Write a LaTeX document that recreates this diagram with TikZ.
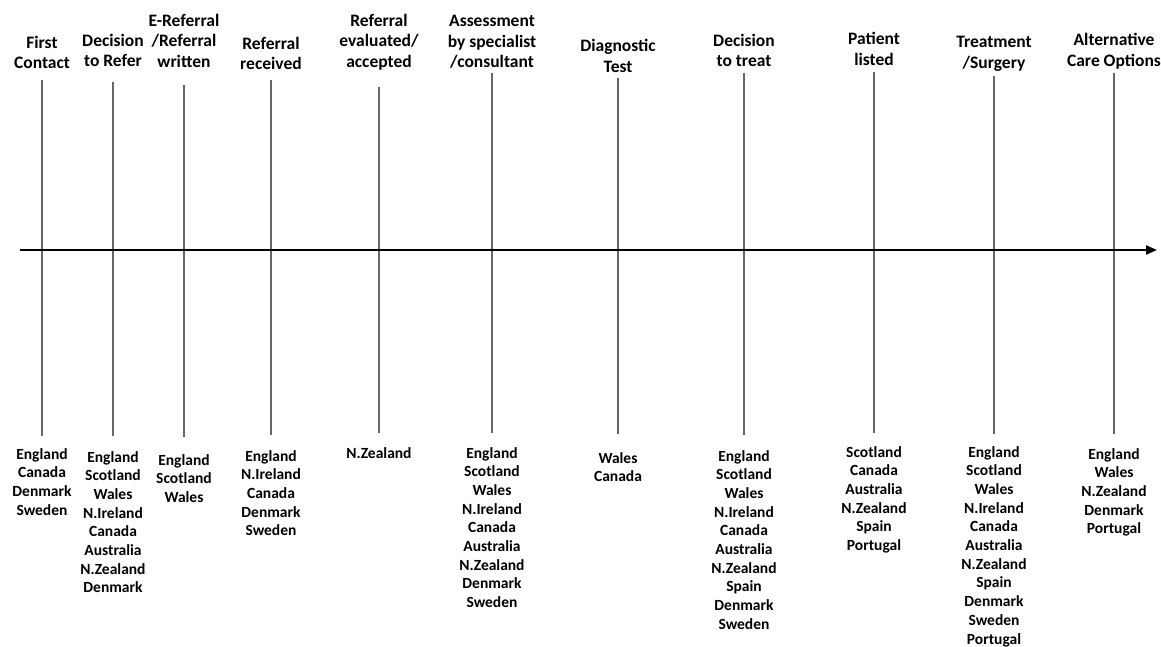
\documentclass[tikz,border=0pt]{standalone}
\usepackage{fontspec}
\setmainfont{Carlito}
\usetikzlibrary{arrows.meta}
\definecolor{tickgray}{HTML}{666666}
\begin{document}
\begin{tikzpicture}[x=1pt,y=-1pt,
  toplbl/.style={font=\fontsize{17.5}{20.5}\selectfont\bfseries, align=center, anchor=north, inner sep=0pt},
  botlbl/.style={font=\fontsize{15.5}{18.7}\selectfont\bfseries, align=center, anchor=north, inner sep=0pt},
  tickline/.style={draw=tickgray, line width=1.6pt},
  axisline/.style={draw=black, line width=2pt, -{Triangle[length=11pt,width=9pt]}}]
\useasboundingbox (0,0) rectangle (1161,647);

% top labels
\node[toplbl] (l1)  at (42,36)   {First\\Contact};
\node[toplbl] (l2)  at (113,34)  {Decision\\to Refer};
\node[toplbl] (l3)  at (184,14)  {E-Referral\\/Referral\\written};
\node[toplbl] (l4)  at (271,37)  {Referral\\received};
\node[toplbl] (l5)  at (379,14)  {Referral\\evaluated/\\accepted};
\node[toplbl] (l6)  at (492,15)  {Assessment\\by specialist\\/consultant};
\node[toplbl] (l7)  at (618,39)  {Diagnostic\\Test};
\node[toplbl] (l8)  at (744,34)  {Decision\\to treat};
\node[toplbl] (l9)  at (874,32)  {Patient\\listed};
\node[toplbl] (l10) at (994,36)  {Treatment\\/Surgery};
\node[toplbl] (l11) at (1114,33) {Alternative\\Care Options};

% bottom lists
\node[botlbl] (c1)  at (42,448)   {England\\Canada\\Denmark\\Sweden};
\node[botlbl] (c2)  at (113,451)  {England\\Scotland\\Wales\\N.Ireland\\Canada\\Australia\\N.Zealand\\Denmark};
\node[botlbl] (c3)  at (184,454)  {England\\Scotland\\Wales};
\node[botlbl] (c4)  at (271,450)  {England\\N.Ireland\\Canada\\Denmark\\Sweden};
\node[botlbl] (c5)  at (379,447)  {N.Zealand};
\node[botlbl] (c6)  at (492,447)  {England\\Scotland\\Wales\\N.Ireland\\Canada\\Australia\\N.Zealand\\Denmark\\Sweden};
\node[botlbl] (c7)  at (618,452)  {Wales\\Canada};
\node[botlbl] (c8)  at (744,450)  {England\\Scotland\\Wales\\N.Ireland\\Canada\\Australia\\N.Zealand\\Spain\\Denmark\\Sweden};
\node[botlbl] (c9)  at (874,446)  {Scotland\\Canada\\Australia\\N.Zealand\\Spain\\Portugal};
\node[botlbl] (c10) at (994,446)  {England\\Scotland\\Wales\\N.Ireland\\Canada\\Australia\\N.Zealand\\Spain\\Denmark\\Sweden\\Portugal};
\node[botlbl] (c11) at (1114,448) {England\\Wales\\N.Zealand\\Denmark\\Portugal};

% vertical stage lines
\coordinate (t1) at (42,80);    \coordinate (b1) at (42,436);
\coordinate (t2) at (113,82);   \coordinate (b2) at (113,436);
\coordinate (t3) at (184,85);   \coordinate (b3) at (184,437);
\coordinate (t4) at (271,80);   \coordinate (b4) at (271,435);
\coordinate (t5) at (379,87);   \coordinate (b5) at (379,433);
\coordinate (t6) at (492,73);   \coordinate (b6) at (492,433);
\coordinate (t7) at (618,78);   \coordinate (b7) at (618,434);
\coordinate (t8) at (744,73);   \coordinate (b8) at (744,435);
\coordinate (t9) at (874,72);   \coordinate (b9) at (874,433);
\coordinate (t10) at (994,76);  \coordinate (b10) at (994,434);
\coordinate (t11) at (1114,73); \coordinate (b11) at (1114,434);
\foreach \i in {1,...,11} {\draw[tickline] (t\i) -- (b\i);}

% time axis
\coordinate (axL) at (20,250);
\coordinate (axR) at (1157,250);
\draw[axisline] (axL) -- (axR);
\end{tikzpicture}
\end{document}
